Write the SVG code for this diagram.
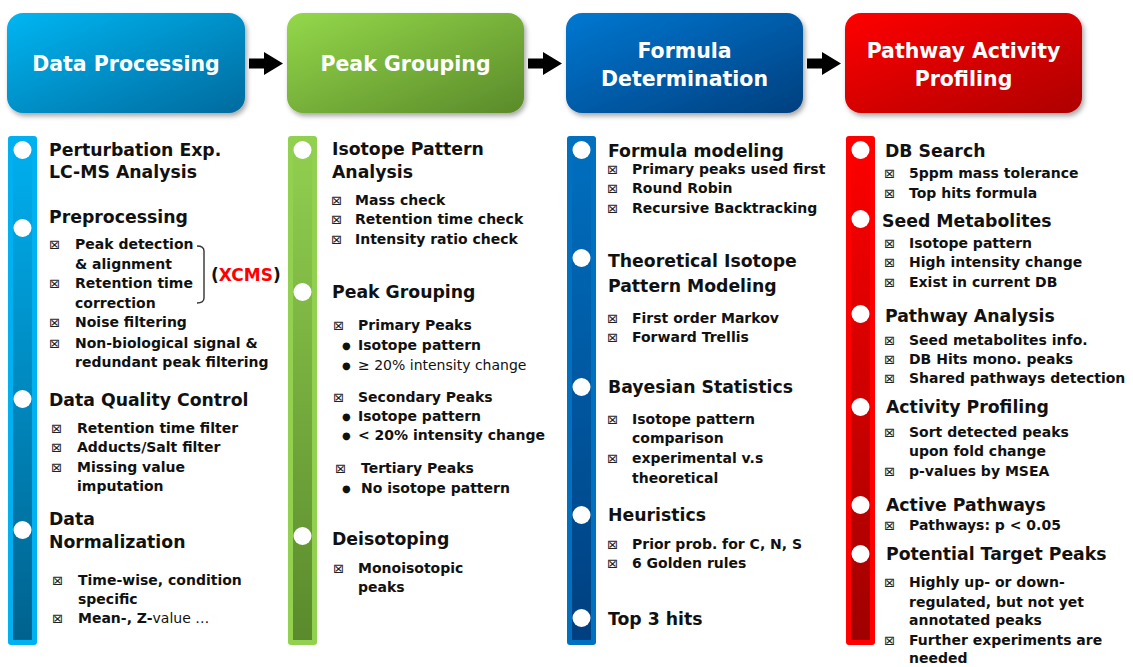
<svg xmlns="http://www.w3.org/2000/svg" width="1133" height="667" viewBox="0 0 1133 667">
<defs>
<style>
.hd{font-family:"DejaVu Sans","Liberation Sans",sans-serif;font-weight:bold;font-size:20.5px;fill:#fff;text-anchor:middle}
.h{font-family:"DejaVu Sans","Liberation Sans",sans-serif;font-weight:bold;font-size:17.3px;fill:#111}
.b{font-family:"DejaVu Sans","Liberation Sans",sans-serif;font-weight:bold;font-size:14px;fill:#111}
.r{font-family:"DejaVu Sans","Liberation Sans",sans-serif;font-weight:normal;font-size:14px;fill:#111}
.x{font-family:"DejaVu Sans",sans-serif;font-size:13px;fill:#222}
.d{font-family:"DejaVu Sans",sans-serif;font-size:10px;fill:#111}
.dot{fill:#fff}
</style>
<filter id="sh" x="-10%" y="-10%" width="125%" height="130%">
<feDropShadow dx="2" dy="3" stdDeviation="2.5" flood-color="#000" flood-opacity="0.35"/>
</filter>
<linearGradient id="gH1" x1="0" y1="0" x2="1" y2="1"><stop offset="0" stop-color="#00b6f2"/><stop offset="1" stop-color="#006a9e"/></linearGradient>
<linearGradient id="gH2" x1="0" y1="0" x2="1" y2="1"><stop offset="0" stop-color="#94d84a"/><stop offset="1" stop-color="#5a8a2a"/></linearGradient>
<linearGradient id="gH3" x1="0" y1="0" x2="1" y2="1"><stop offset="0" stop-color="#0078d2"/><stop offset="1" stop-color="#003f7e"/></linearGradient>
<linearGradient id="gH4" x1="0" y1="0" x2="1" y2="1"><stop offset="0" stop-color="#ff0000"/><stop offset="1" stop-color="#ad0000"/></linearGradient>
<linearGradient id="gB1" x1="0" y1="0" x2="0" y2="1"><stop offset="0" stop-color="#00b0f0"/><stop offset="1" stop-color="#00628e"/></linearGradient>
<linearGradient id="gB2" x1="0" y1="0" x2="0" y2="1"><stop offset="0" stop-color="#92d050"/><stop offset="1" stop-color="#5a8a2c"/></linearGradient>
<linearGradient id="gB3" x1="0" y1="0" x2="0" y2="1"><stop offset="0" stop-color="#0070c0"/><stop offset="1" stop-color="#003f80"/></linearGradient>
<linearGradient id="gB4" x1="0" y1="0" x2="0" y2="1"><stop offset="0" stop-color="#ff0000"/><stop offset="1" stop-color="#a00000"/></linearGradient>
<path id="arrow" d="M0,-5 L15,-5 L15,-11.5 L34,0 L15,11.5 L15,5 L0,5 Z" fill="#000"/>
</defs>
<rect width="1133" height="667" fill="#fff"/>

<g id="connectors">
<use href="#arrow" x="249" y="63.5"/>
<use href="#arrow" x="528" y="63.5"/>
<use href="#arrow" x="807" y="63.5"/>
</g>

<g id="header-data-processing">
<rect x="7" y="13" width="238" height="100" rx="16" fill="url(#gH1)" filter="url(#sh)"/>
<text class="hd" x="126" y="71">Data Processing</text>
</g>
<g id="header-peak-grouping">
<rect x="287" y="13" width="237" height="100" rx="16" fill="url(#gH2)" filter="url(#sh)"/>
<text class="hd" x="405.5" y="71">Peak Grouping</text>
</g>
<g id="header-formula">
<rect x="566" y="13" width="237" height="100" rx="16" fill="url(#gH3)" filter="url(#sh)"/>
<text class="hd" x="684.5" y="58">Formula</text>
<text class="hd" x="684.5" y="86">Determination</text>
</g>
<g id="header-pathway">
<rect x="845" y="13" width="237" height="100" rx="16" fill="url(#gH4)" filter="url(#sh)"/>
<text class="hd" x="963.5" y="58">Pathway Activity</text>
<text class="hd" x="963.5" y="86">Profiling</text>
</g>

<g id="col-data-processing">
<rect x="8" y="136" width="29" height="509" rx="3" fill="#00b0f0"/>
<rect x="13" y="136" width="19" height="504" fill="url(#gB1)"/>
<circle class="dot" cx="22.5" cy="150" r="9"/>
<circle class="dot" cx="22.5" cy="228" r="9"/>
<circle class="dot" cx="22.5" cy="399" r="9"/>
<circle class="dot" cx="22.5" cy="530" r="9"/>
<text class="h" x="49" y="156">Perturbation Exp.</text>
<text class="h" x="49" y="178">LC-MS Analysis</text>
<text class="h" x="49" y="223">Preprocessing</text>
<text class="x" x="49" y="249">⊠</text><text class="b" x="75" y="249">Peak detection</text>
<text class="b" x="75" y="269">&amp; alignment</text>
<text class="x" x="49" y="288">⊠</text><text class="b" x="75" y="288">Retention time</text>
<text class="b" x="75" y="308">correction</text>
<text class="x" x="49" y="327">⊠</text><text class="b" x="75" y="327">Noise filtering</text>
<text class="x" x="49" y="348">⊠</text><text class="b" x="75" y="348">Non-biological signal &amp;</text>
<text class="b" x="75" y="367">redundant peak filtering</text>
<path d="M197,246 Q204,246 204,251 L204,298 Q204,303 197,303" fill="none" stroke="#333" stroke-width="1.4"/>
<text class="h" x="211" y="281" style="font-size:17px">(<tspan fill="#ff0000">XCMS</tspan>)</text>
<text class="h" x="49" y="406">Data Quality Control</text>
<text class="x" x="51" y="433">⊠</text><text class="b" x="77" y="433">Retention time filter</text>
<text class="x" x="51" y="452">⊠</text><text class="b" x="77" y="452">Adducts/Salt filter</text>
<text class="x" x="51" y="472">⊠</text><text class="b" x="77" y="472">Missing value</text>
<text class="b" x="77" y="491">imputation</text>
<text class="h" x="49" y="525">Data</text>
<text class="h" x="49" y="548">Normalization</text>
<text class="x" x="52" y="585">⊠</text><text class="b" x="78" y="585">Time-wise, condition</text>
<text class="b" x="78" y="604">specific</text>
<text class="x" x="52" y="623">⊠</text><text class="b" x="78" y="623">Mean-, Z-<tspan class="r">value …</tspan></text>
</g>

<g id="col-peak-grouping">
<rect x="288" y="136" width="29" height="509" rx="3" fill="#92d050"/>
<rect x="293" y="136" width="19" height="504" fill="url(#gB2)"/>
<circle class="dot" cx="302.5" cy="150" r="9"/>
<circle class="dot" cx="302.5" cy="292" r="9"/>
<circle class="dot" cx="302.5" cy="536" r="9"/>
<text class="h" x="332" y="155">Isotope Pattern</text>
<text class="h" x="332" y="178">Analysis</text>
<text class="x" x="331" y="205">⊠</text><text class="b" x="355" y="205">Mass check</text>
<text class="x" x="331" y="224">⊠</text><text class="b" x="355" y="224">Retention time check</text>
<text class="x" x="331" y="244">⊠</text><text class="b" x="355" y="244">Intensity ratio check</text>
<text class="h" x="332" y="298">Peak Grouping</text>
<text class="x" x="333" y="330">⊠</text><text class="b" x="358" y="330">Primary Peaks</text>
<text class="d" x="342" y="349">●</text><text class="b" x="358" y="350">Isotope pattern</text>
<text class="d" x="342" y="369">●</text><text class="r" x="358" y="370">≥ 20% intensity change</text>
<text class="x" x="333" y="402">⊠</text><text class="b" x="358" y="402">Secondary Peaks</text>
<text class="d" x="342" y="420">●</text><text class="b" x="358" y="421">Isotope pattern</text>
<text class="d" x="342" y="439">●</text><text class="b" x="358" y="440">&lt; 20% intensity change</text>
<text class="x" x="335" y="473">⊠</text><text class="b" x="361" y="473">Tertiary Peaks</text>
<text class="d" x="342" y="492">●</text><text class="b" x="361" y="493">No isotope pattern</text>
<text class="h" x="332" y="545">Deisotoping</text>
<text class="x" x="333" y="573">⊠</text><text class="b" x="358" y="573">Monoisotopic</text>
<text class="b" x="358" y="592">peaks</text>
</g>

<g id="col-formula">
<rect x="567" y="136" width="29" height="509" rx="3" fill="#0070c0"/>
<rect x="572" y="136" width="19" height="504" fill="url(#gB3)"/>
<circle class="dot" cx="581.5" cy="150" r="9"/>
<circle class="dot" cx="581.5" cy="258" r="9"/>
<circle class="dot" cx="581.5" cy="387" r="9"/>
<circle class="dot" cx="581.5" cy="515" r="9"/>
<circle class="dot" cx="581.5" cy="618" r="9"/>
<text class="h" x="608" y="157">Formula modeling</text>
<text class="x" x="607" y="174">⊠</text><text class="b" x="632" y="174">Primary peaks used first</text>
<text class="x" x="607" y="193">⊠</text><text class="b" x="632" y="193">Round Robin</text>
<text class="x" x="607" y="213">⊠</text><text class="b" x="632" y="213">Recursive Backtracking</text>
<text class="h" x="608" y="267">Theoretical Isotope</text>
<text class="h" x="608" y="292">Pattern Modeling</text>
<text class="x" x="607" y="323">⊠</text><text class="b" x="632" y="323">First order Markov</text>
<text class="x" x="607" y="342">⊠</text><text class="b" x="632" y="342">Forward Trellis</text>
<text class="h" x="608" y="393">Bayesian Statistics</text>
<text class="x" x="607" y="424">⊠</text><text class="b" x="632" y="424">Isotope pattern</text>
<text class="b" x="632" y="443">comparison</text>
<text class="x" x="607" y="463">⊠</text><text class="b" x="632" y="463">experimental v.s</text>
<text class="b" x="632" y="483">theoretical</text>
<text class="h" x="608" y="521">Heuristics</text>
<text class="x" x="607" y="549">⊠</text><text class="b" x="632" y="549">Prior prob. for C, N, S</text>
<text class="x" x="607" y="568">⊠</text><text class="b" x="632" y="568">6 Golden rules</text>
<text class="h" x="608" y="625">Top 3 hits</text>
</g>

<g id="col-pathway">
<rect x="846" y="136" width="29" height="509" rx="3" fill="#ff0000"/>
<rect x="851" y="136" width="19" height="504" fill="url(#gB4)"/>
<circle class="dot" cx="860.5" cy="150" r="9"/>
<circle class="dot" cx="860.5" cy="219" r="9"/>
<circle class="dot" cx="860.5" cy="314" r="9"/>
<circle class="dot" cx="860.5" cy="407" r="9"/>
<circle class="dot" cx="860.5" cy="505" r="9"/>
<circle class="dot" cx="860.5" cy="554" r="9"/>
<text class="h" x="885" y="157">DB Search</text>
<text class="x" x="884" y="178">⊠</text><text class="b" x="909" y="178">5ppm mass tolerance</text>
<text class="x" x="884" y="198">⊠</text><text class="b" x="909" y="198">Top hits formula</text>
<text class="h" x="882" y="227">Seed Metabolites</text>
<text class="x" x="884" y="248">⊠</text><text class="b" x="909" y="248">Isotope pattern</text>
<text class="x" x="884" y="267">⊠</text><text class="b" x="909" y="267">High intensity change</text>
<text class="x" x="884" y="287">⊠</text><text class="b" x="909" y="287">Exist in current DB</text>
<text class="h" x="885" y="322">Pathway Analysis</text>
<text class="x" x="884" y="345">⊠</text><text class="b" x="909" y="345">Seed metabolites info.</text>
<text class="x" x="884" y="364">⊠</text><text class="b" x="909" y="364">DB Hits mono. peaks</text>
<text class="x" x="884" y="383">⊠</text><text class="b" x="909" y="383">Shared pathways detection</text>
<text class="h" x="886" y="413">Activity Profiling</text>
<text class="x" x="884" y="437">⊠</text><text class="b" x="909" y="437">Sort detected peaks</text>
<text class="b" x="909" y="456">upon fold change</text>
<text class="x" x="884" y="476">⊠</text><text class="b" x="909" y="476">p-values by MSEA</text>
<text class="h" x="886" y="511">Active Pathways</text>
<text class="x" x="884" y="530">⊠</text><text class="b" x="909" y="530">Pathways: p &lt; 0.05</text>
<text class="h" x="886" y="560">Potential Target Peaks</text>
<text class="x" x="884" y="587">⊠</text><text class="b" x="909" y="587">Highly up- or down-</text>
<text class="b" x="909" y="607">regulated, but not yet</text>
<text class="b" x="909" y="625">annotated peaks</text>
<text class="x" x="884" y="645">⊠</text><text class="b" x="909" y="645">Further experiments are</text>
<text class="b" x="909" y="663">needed</text>
</g>
</svg>
